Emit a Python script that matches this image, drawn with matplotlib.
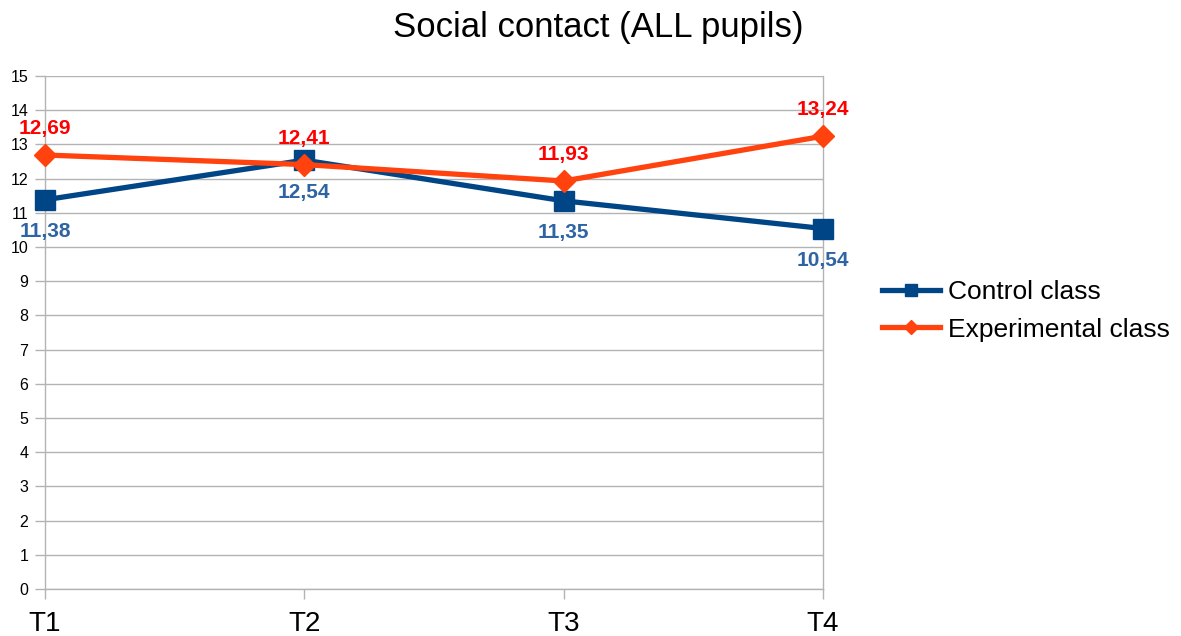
import matplotlib
matplotlib.use("Agg")
import matplotlib.pyplot as plt

plt.rcParams['font.family'] = ['Liberation Sans', 'DejaVu Sans']

categories = ["T1", "T2", "T3", "T4"]
control = [11.38, 12.54, 11.35, 10.54]
experimental = [12.69, 12.41, 11.93, 13.24]
control_labels = ["11,38", "12,54", "11,35", "10,54"]
experimental_labels = ["12,69", "12,41", "11,93", "13,24"]
title = "Social contact (ALL pupils)"

fig = plt.figure(figsize=(11.81, 6.36), dpi=100)
ax = fig.add_axes([45/1181, 47/636, (823-45)/1181, (589-76)/636])

x = list(range(len(categories)))
c_col = "#004586"
e_col = "#ff420e"

ax.plot(x, control, color=c_col, lw=3.8, marker="s", markersize=15, label="Control class",
        zorder=3, clip_on=False)
ax.plot(x, experimental, color=e_col, lw=3.8, marker="D", markersize=11, label="Experimental class",
        zorder=4, clip_on=False)

for xi, v, t in zip(x, control, control_labels):
    ax.annotate(t, (xi, v), xytext=(0, -23), textcoords="offset points", ha="center", va="center",
                color="#2e64a3", fontsize=15, fontweight="bold", zorder=5)
for xi, v, t in zip(x, experimental, experimental_labels):
    ax.annotate(t, (xi, v), xytext=(0, 19), textcoords="offset points", ha="center", va="center",
                color="#ff0000", fontsize=15, fontweight="bold", zorder=5)

ax.set_xlim(0, 3)
ax.set_ylim(0, 15)
ax.set_yticks(range(0, 16))
ax.set_xticks(x)
ax.set_xticklabels(categories, fontsize=20)
ax.tick_params(axis="y", labelsize=11.5, length=7, color="#b3b3b3", width=1, pad=5)
ax.tick_params(axis="x", length=7, color="#b3b3b3", width=1, pad=9)
ax.grid(axis="y", color="#b3b3b3", lw=1)
ax.set_axisbelow(True)
for s in ["left", "bottom", "right"]:
    ax.spines[s].set_color("#b3b3b3")
    ax.spines[s].set_linewidth(1)
ax.spines["top"].set_visible(False)

fig.text(598/1181, 1 - 27/636, title, ha="center", va="center", fontsize=25)

leg = fig.legend(loc="center left", bbox_to_anchor=(858/1181, 1 - 311/636), frameon=False,
                 fontsize=19, handlelength=2.2, handletextpad=0.3, labelspacing=0.5)
for h, ms in zip(leg.legend_handles, [9, 7.5]):
    h.set_markersize(ms)

fig.savefig("out.png", dpi=100)
